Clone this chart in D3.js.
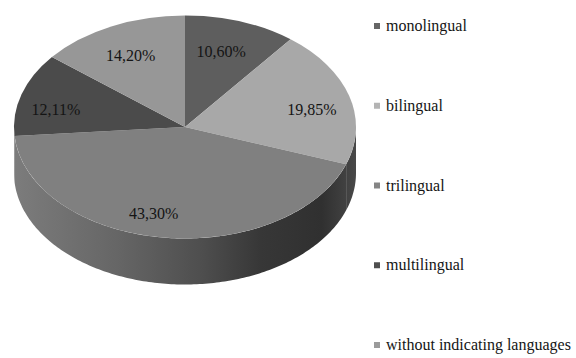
<!DOCTYPE html>
<html>
<head>
<meta charset="utf-8">
<script src="https://cdnjs.cloudflare.com/ajax/libs/d3/7.8.5/d3.min.js"></script>
<style>
html,body{margin:0;padding:0;background:#fff}
svg{display:block}
text{font-family:"Liberation Serif",serif;fill:#141414}
</style>
</head>
<body>
<svg id="chart" width="576" height="358"></svg>
<script>
const categories = ["monolingual", "bilingual", "trilingual", "multilingual", "without indicating languages"];
const shares = [10.60, 19.85, 43.30, 12.11, 14.20];
const shareLabels = ["10,60%", "19,85%", "43,30%", "12,11%", "14,20%"];
const faceColors = ["#5e5e5e", "#a8a8a8", "#808080", "#4b4b4b", "#979797"];
const legendColors = ["#666666", "#b4b4b4", "#858585", "#4f4f4f", "#9b9b9b"];

const W = 576, H = 358;
const cx = 185, cy = 127, rx = 171, ry = 111.5, depth = 46;

const svg = d3.select("#chart");

// Horizontal shading of the rim, lit from the left
const grad = svg.append("defs").append("linearGradient")
  .attr("id", "rim").attr("gradientUnits", "userSpaceOnUse")
  .attr("x1", cx - rx).attr("x2", cx + rx).attr("y1", 0).attr("y2", 0);
[[0, "#7c7c7c"], [0.3, "#666666"], [0.55, "#4e4e4e"], [0.72, "#373737"], [0.9, "#303030"], [1, "#484848"]]
  .forEach(([o, c]) => grad.append("stop").attr("offset", o).attr("stop-color", c));

const slices = d3.pie().sort(null).value(d => d)(shares);

// Rim: the front half of the disc, extruded downwards
const ex = a => cx + rx * Math.sin(a);
const ey = a => cy - ry * Math.cos(a);
const rim = d3.area().x(ex).y0(ey).y1(a => ey(a) + depth);
const front = [Math.PI / 2, Math.PI * 1.5];
slices.forEach(s => {
  const a0 = Math.max(s.startAngle, front[0]);
  const a1 = Math.min(s.endAngle, front[1]);
  if (a1 <= a0) return;
  const n = Math.ceil((a1 - a0) * 60);
  const steps = d3.range(n + 1).map(i => a0 + (a1 - a0) * i / n);
  svg.append("path").attr("d", rim(steps)).attr("fill", "url(#rim)");
});

// Top face: a flat pie squashed into an ellipse
const arc = d3.arc().innerRadius(0).outerRadius(rx);
const face = svg.append("g").attr("transform", `translate(${cx},${cy}) scale(1,${ry / rx})`);
face.selectAll("path").data(slices).join("path")
  .attr("d", arc)
  .attr("fill", (d, i) => faceColors[i]);

// Value labels, placed along each slice's mid-angle and nudged clear of the edges
const labelPull = [0.56, 0.84, 0.785, 0.71, 0.6];
const labelDx = [5, -11, -14, -13, -10];
const labelDy = [-16, 9, 0, 6, -11];
svg.append("g").selectAll("text").data(slices).join("text")
  .attr("x", (d, i) => cx + rx * labelPull[i] * Math.sin((d.startAngle + d.endAngle) / 2) + labelDx[i])
  .attr("y", (d, i) => cy - ry * labelPull[i] * Math.cos((d.startAngle + d.endAngle) / 2) + 5 + labelDy[i])
  .attr("text-anchor", "middle")
  .attr("font-size", 16)
  .text((d, i) => shareLabels[i]);

// Legend column
const legendY = d3.scalePoint().domain(categories).range([26, 345]);
const legend = svg.append("g").selectAll("g").data(categories).join("g")
  .attr("transform", d => `translate(374,${legendY(d)})`);
legend.append("rect").attr("x", 0).attr("y", -3).attr("width", 6).attr("height", 6)
  .attr("fill", (d, i) => legendColors[i]);
legend.append("text").attr("x", 12).attr("y", 5).attr("font-size", 16).text(d => d);
</script>
</body>
</html>
